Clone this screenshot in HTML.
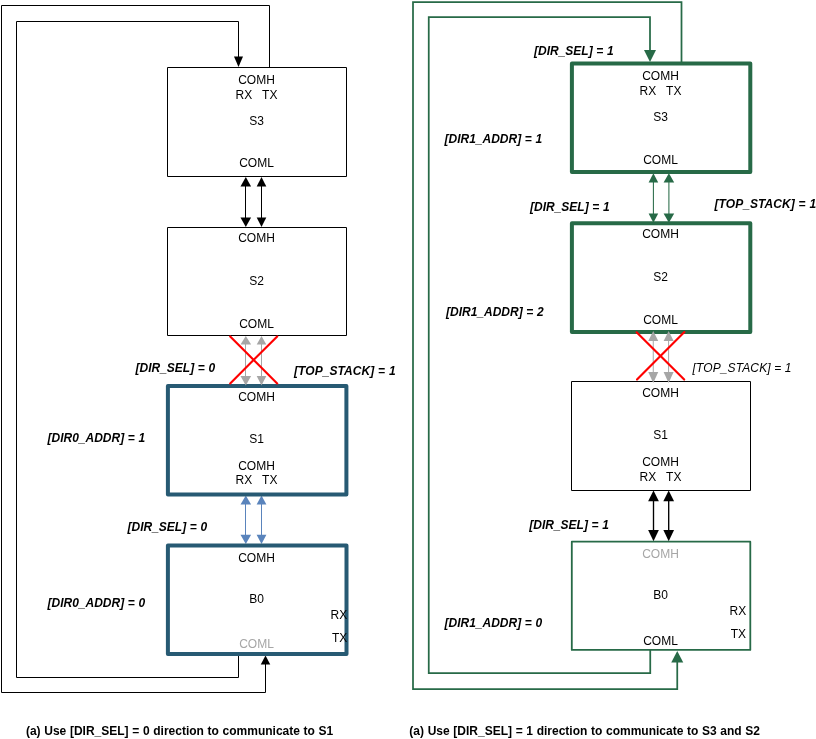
<!DOCTYPE html>
<html><head><meta charset="utf-8"><title>Daisy chain direction</title>
<style>
html,body{margin:0;padding:0;background:#fff;}
svg{display:block;will-change:transform;}
text{font-family:"Liberation Sans",Arial,sans-serif;font-size:12px;fill:#000;white-space:pre;}
text.bi{font-weight:bold;font-style:italic;word-spacing:0.35px;}
text.b{font-weight:bold;word-spacing:0.33px;}
text.i{font-style:italic;letter-spacing:0.12px;}
text.ts{letter-spacing:0.07px;}
</style></head><body>
<svg width="816" height="739" viewBox="0 0 816 739">
<path d="M269.5 67.5 V5.5 H1.5 V692.5 H265.5 V662" fill="none" stroke="#000" stroke-width="1"/>
<polygon points="260.75,664.5 270.25,664.5 265.5,655.5" fill="#000"/>
<path d="M238.5 655 V677.5 H16.5 V21.5 H238.5 V58" fill="none" stroke="#000" stroke-width="1"/>
<polygon points="234.0,56.5 243.0,56.5 238.5,67" fill="#000"/>
<rect x="167.5" y="67.5" width="179.0" height="109.0" fill="none" stroke="#000" stroke-width="1" stroke-linejoin="round"/>
<rect x="167.5" y="227.5" width="179.0" height="108.0" fill="none" stroke="#000" stroke-width="1" stroke-linejoin="round"/>
<line x1="245.5" y1="185.5" x2="245.5" y2="218.5" stroke="#000" stroke-width="1"/>
<polygon points="240.5,186.5 251.10000000000002,186.5 245.8,177" fill="#000"/>
<polygon points="240.5,217.5 251.10000000000002,217.5 245.8,227" fill="#000"/>
<line x1="261.5" y1="185.5" x2="261.5" y2="218.5" stroke="#000" stroke-width="1"/>
<polygon points="256.7,186.5 266.3,186.5 261.5,177" fill="#000"/>
<polygon points="256.7,217.5 266.3,217.5 261.5,227" fill="#000"/>
<line x1="245.5" y1="503.6" x2="245.5" y2="535.8" stroke="#5a84bc" stroke-width="1"/>
<polygon points="240.5,504.6 251.10000000000002,504.6 245.8,495.5" fill="#5a84bc"/>
<polygon points="240.5,534.8 251.10000000000002,534.8 245.8,543.9" fill="#5a84bc"/>
<line x1="261.5" y1="503.6" x2="261.5" y2="535.8" stroke="#5a84bc" stroke-width="1"/>
<polygon points="256.6,504.6 266.4,504.6 261.5,495.5" fill="#5a84bc"/>
<polygon points="256.6,534.8 266.4,534.8 261.5,543.9" fill="#5a84bc"/>
<rect x="167.9" y="386" width="178.49999999999997" height="108.60000000000002" fill="none" stroke="#275a73" stroke-width="4" stroke-linejoin="round"/>
<rect x="167.9" y="545.4" width="178.6" height="108.60000000000002" fill="none" stroke="#275a73" stroke-width="4" stroke-linejoin="round"/>
<line x1="245.5" y1="343.6" x2="245.5" y2="377.1" stroke="#a6a6a6" stroke-width="1"/>
<polygon points="240.5,344.6 251.10000000000002,344.6 245.8,336" fill="#a6a6a6"/>
<polygon points="240.5,376.1 251.10000000000002,376.1 245.8,385.5" fill="#a6a6a6"/>
<line x1="261.5" y1="343.6" x2="261.5" y2="377.1" stroke="#a6a6a6" stroke-width="1"/>
<polygon points="256.7,344.6 266.3,344.6 261.5,336" fill="#a6a6a6"/>
<polygon points="256.7,376.1 266.3,376.1 261.5,385.5" fill="#a6a6a6"/>
<path d="M230.2 336.4 L277.2 383.4 M277.2 336.4 L230.2 383.4" stroke="#ff0000" stroke-width="2.15" stroke-linecap="round" fill="none"/>
<text x="256.5" y="84" text-anchor="middle" xml:space="preserve">COMH</text>
<text x="256.5" y="99" text-anchor="middle" xml:space="preserve">RX   TX</text>
<text x="256.5" y="125" text-anchor="middle" xml:space="preserve">S3</text>
<text x="256.5" y="167" text-anchor="middle" xml:space="preserve">COML</text>
<text x="256.5" y="242" text-anchor="middle" xml:space="preserve">COMH</text>
<text x="256.5" y="285" text-anchor="middle" xml:space="preserve">S2</text>
<text x="256.5" y="328" text-anchor="middle" xml:space="preserve">COML</text>
<text x="256.5" y="400.5" text-anchor="middle" xml:space="preserve">COMH</text>
<text x="256.5" y="443" text-anchor="middle" xml:space="preserve">S1</text>
<text x="256.5" y="469.5" text-anchor="middle" xml:space="preserve">COMH</text>
<text x="256.5" y="484" text-anchor="middle" xml:space="preserve">RX   TX</text>
<text x="256.5" y="561.75" text-anchor="middle" xml:space="preserve">COMH</text>
<text x="256.5" y="603" text-anchor="middle" xml:space="preserve">B0</text>
<text x="256.5" y="648" text-anchor="middle" style="fill:#a6a6a6" xml:space="preserve">COML</text>
<text x="330.5" y="618.75" xml:space="preserve">RX</text>
<text x="332" y="642" xml:space="preserve">TX</text>
<text x="135.5" y="371.75" class="bi" xml:space="preserve">[DIR_SEL] = 0</text>
<text x="294" y="375" class="bi ts" xml:space="preserve">[TOP_STACK] = 1</text>
<text x="47.5" y="441.75" class="bi" xml:space="preserve">[DIR0_ADDR] = 1</text>
<text x="127.5" y="531.25" class="bi" xml:space="preserve">[DIR_SEL] = 0</text>
<text x="47.5" y="607" class="bi" xml:space="preserve">[DIR0_ADDR] = 0</text>
<text x="25.9" y="734.5" class="b" xml:space="preserve">(a) Use [DIR_SEL] = 0 direction to communicate to S1</text>
<path d="M681.5 62 V2 H413 V689 H677.25 V660" fill="none" stroke="#276a47" stroke-width="1.75"/>
<polygon points="671.25,662.5 683.25,662.5 677.25,651" fill="#276a47"/>
<path d="M650.25 650 V673.1 H428.75 V17 H650 V52" fill="none" stroke="#276a47" stroke-width="1.75"/>
<polygon points="644.0,50 656.0,50 650,62" fill="#276a47"/>
<line x1="653.4" y1="181.5" x2="653.4" y2="214.5" stroke="#276a47" stroke-width="1.05"/>
<polygon points="648.6,182.5 658.1999999999999,182.5 653.4,173.2" fill="#276a47"/>
<polygon points="648.6,213.5 658.1999999999999,213.5 653.4,222.8" fill="#276a47"/>
<line x1="668.9" y1="181.5" x2="668.9" y2="214.5" stroke="#276a47" stroke-width="1.05"/>
<polygon points="663.6,182.5 674.1999999999999,182.5 668.9,173.2" fill="#276a47"/>
<polygon points="663.6,213.5 674.1999999999999,213.5 668.9,222.8" fill="#276a47"/>
<line x1="653.5" y1="500.29999999999995" x2="653.5" y2="530.9000000000001" stroke="#000" stroke-width="1.35"/>
<polygon points="648.15,501.29999999999995 658.85,501.29999999999995 653.5,490.4" fill="#000"/>
<polygon points="648.15,529.9000000000001 658.85,529.9000000000001 653.5,541.2" fill="#000"/>
<line x1="668.7" y1="500.29999999999995" x2="668.7" y2="530.9000000000001" stroke="#000" stroke-width="1.35"/>
<polygon points="663.35,501.29999999999995 674.0500000000001,501.29999999999995 668.7,490.4" fill="#000"/>
<polygon points="663.35,529.9000000000001 674.0500000000001,529.9000000000001 668.7,541.2" fill="#000"/>
<rect x="571.9" y="63.5" width="178.39999999999998" height="108.6" fill="none" stroke="#276a47" stroke-width="4" stroke-linejoin="round"/>
<rect x="571.9" y="223.3" width="178.39999999999998" height="108.69999999999999" fill="none" stroke="#276a47" stroke-width="4" stroke-linejoin="round"/>
<rect x="571.5" y="381.5" width="179.0" height="109.0" fill="none" stroke="#000" stroke-width="1" stroke-linejoin="round"/>
<rect x="571.8" y="541.7" width="178.5" height="108.19999999999993" fill="none" stroke="#276a47" stroke-width="1.8" stroke-linejoin="round"/>
<line x1="653.25" y1="340" x2="653.25" y2="373" stroke="#a6a6a6" stroke-width="1"/>
<polygon points="648.25,341 658.25,341 653.25,331" fill="#a6a6a6"/>
<polygon points="648.25,372 658.25,372 653.25,383" fill="#a6a6a6"/>
<line x1="668.6" y1="340" x2="668.6" y2="373" stroke="#a6a6a6" stroke-width="1"/>
<polygon points="663.6,341 673.6,341 668.6,331" fill="#a6a6a6"/>
<polygon points="663.6,372 673.6,372 668.6,383" fill="#a6a6a6"/>
<path d="M636.6 332.3 L684.2 379.6 M684.4 332.1 L637 379.6" stroke="#ff0000" stroke-width="2.15" stroke-linecap="round" fill="none"/>
<text x="660.5" y="80" text-anchor="middle" xml:space="preserve">COMH</text>
<text x="660.5" y="95" text-anchor="middle" xml:space="preserve">RX   TX</text>
<text x="660.5" y="121" text-anchor="middle" xml:space="preserve">S3</text>
<text x="660.5" y="164" text-anchor="middle" xml:space="preserve">COML</text>
<text x="660.5" y="238" text-anchor="middle" xml:space="preserve">COMH</text>
<text x="660.5" y="281" text-anchor="middle" xml:space="preserve">S2</text>
<text x="660.5" y="324" text-anchor="middle" xml:space="preserve">COML</text>
<text x="660.5" y="397" text-anchor="middle" xml:space="preserve">COMH</text>
<text x="660.5" y="439" text-anchor="middle" xml:space="preserve">S1</text>
<text x="660.5" y="465.75" text-anchor="middle" xml:space="preserve">COMH</text>
<text x="660.5" y="480.5" text-anchor="middle" xml:space="preserve">RX   TX</text>
<text x="660.5" y="557.5" text-anchor="middle" style="fill:#a6a6a6" xml:space="preserve">COMH</text>
<text x="660.5" y="598.75" text-anchor="middle" xml:space="preserve">B0</text>
<text x="660.5" y="645" text-anchor="middle" xml:space="preserve">COML</text>
<text x="729.5" y="615" xml:space="preserve">RX</text>
<text x="730.75" y="638" xml:space="preserve">TX</text>
<text x="534" y="55" class="bi" xml:space="preserve">[DIR_SEL] = 1</text>
<text x="444.5" y="143" class="bi" xml:space="preserve">[DIR1_ADDR] = 1</text>
<text x="530" y="210.5" class="bi" xml:space="preserve">[DIR_SEL] = 1</text>
<text x="714.5" y="208.25" class="bi ts" xml:space="preserve">[TOP_STACK] = 1</text>
<text x="446" y="316.25" class="bi" xml:space="preserve">[DIR1_ADDR] = 2</text>
<text x="692.5" y="372" class="i" xml:space="preserve">[TOP_STACK] = 1</text>
<text x="529.25" y="528.5" class="bi" xml:space="preserve">[DIR_SEL] = 1</text>
<text x="444.5" y="627" class="bi" xml:space="preserve">[DIR1_ADDR] = 0</text>
<text x="409.3" y="734.5" class="b" xml:space="preserve">(a) Use [DIR_SEL] = 1 direction to communicate to S3 and S2</text>
</svg>
</body></html>
